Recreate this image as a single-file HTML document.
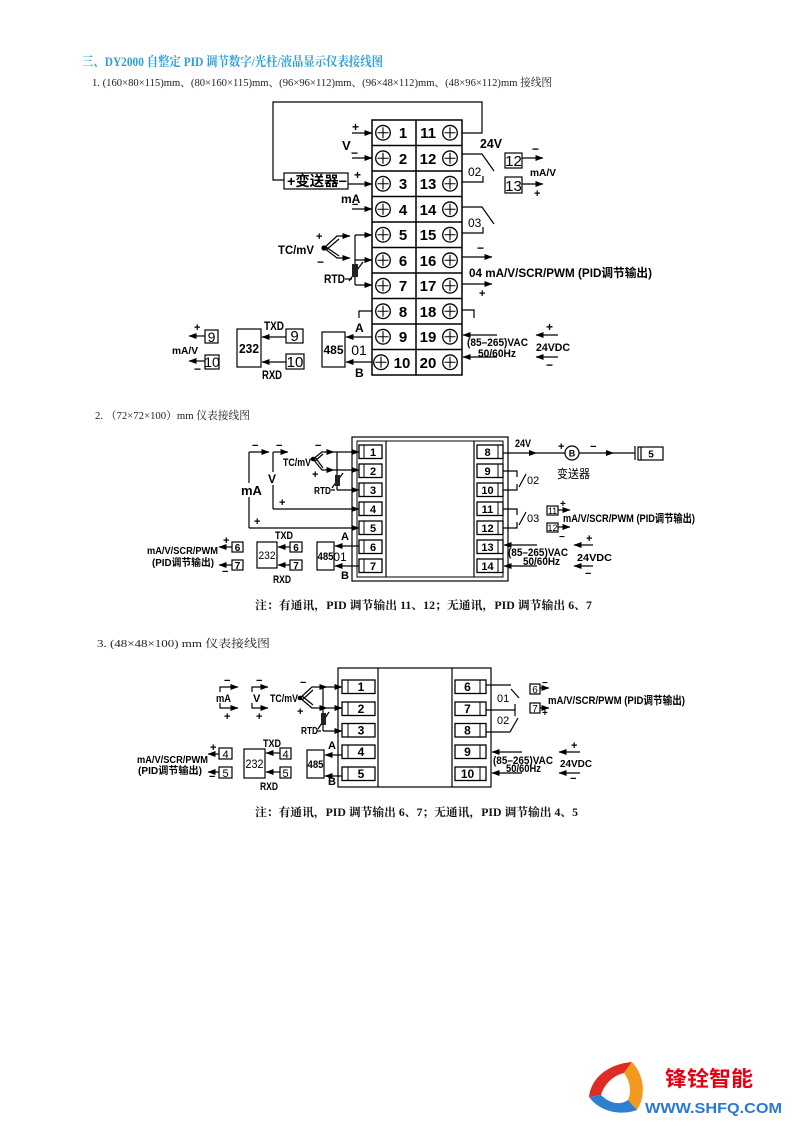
<!DOCTYPE html>
<html><head><meta charset="utf-8"><style>
html,body{margin:0;padding:0;background:#fff;width:794px;height:1123px;overflow:hidden}
svg{display:block}
.s{font-family:"Liberation Sans","Noto Sans CJK SC",sans-serif}
.b{font-weight:bold}
.sf{font-family:"Liberation Serif","Noto Serif CJK SC",serif}
</style></head><body>
<svg width="794" height="1123" viewBox="0 0 794 1123" xmlns="http://www.w3.org/2000/svg">
<defs>
<marker id="a" markerWidth="8" markerHeight="6" refX="7.5" refY="3" orient="auto" markerUnits="userSpaceOnUse"><path d="M0,0 L8,3 L0,6 z" fill="#000"/></marker>
<g id="cp"><circle r="7.3" fill="#fff" stroke="#000" stroke-width="1.3"/><path d="M-5.5,0H5.5M0,-5.5V5.5" stroke="#000" stroke-width="1.1"/></g>
</defs>
<rect width="794" height="1123" fill="#fff"/>

<!-- headers -->
<text x="82" y="66" class="sf b" font-size="13" fill="#2b9fd9" textLength="301" lengthAdjust="spacingAndGlyphs">三、DY2000 自整定 PID 调节数字/光柱/液晶显示仪表接线图</text>
<text x="92" y="86" class="sf" font-size="11" fill="#222" textLength="460" lengthAdjust="spacingAndGlyphs">1. (160×80×115)mm、(80×160×115)mm、(96×96×112)mm、(96×48×112)mm、(48×96×112)mm 接线图</text>

<!-- ================= Diagram 1 ================= -->
<g stroke="#000" fill="none" stroke-width="1.5">
<rect x="372" y="120" width="90" height="255"/>
<path d="M416,120V375M372,145.5H462M372,171H462M372,196.5H462M372,222H462M372,247.5H462M372,273H462M372,298.5H462M372,324H462M372,349.5H462"/>
</g>
<g>
<use href="#cp" x="383" y="132.75"/><use href="#cp" x="383" y="158.25"/><use href="#cp" x="383" y="183.75"/><use href="#cp" x="383" y="209.25"/><use href="#cp" x="383" y="234.75"/><use href="#cp" x="383" y="260.25"/><use href="#cp" x="383" y="285.75"/><use href="#cp" x="383" y="311.25"/><use href="#cp" x="383" y="336.75"/><use href="#cp" x="381" y="362.25"/>
<use href="#cp" x="450" y="132.75"/><use href="#cp" x="450" y="158.25"/><use href="#cp" x="450" y="183.75"/><use href="#cp" x="450" y="209.25"/><use href="#cp" x="450" y="234.75"/><use href="#cp" x="450" y="260.25"/><use href="#cp" x="450" y="285.75"/><use href="#cp" x="450" y="311.25"/><use href="#cp" x="450" y="336.75"/><use href="#cp" x="450" y="362.25"/>
</g>
<g class="s b" font-size="15" text-anchor="middle" fill="#000">
<text x="403" y="138">1</text><text x="403" y="164">2</text><text x="403" y="189">3</text><text x="403" y="215">4</text><text x="403" y="240">5</text><text x="403" y="266">6</text><text x="403" y="291">7</text><text x="403" y="317">8</text><text x="403" y="342">9</text><text x="402" y="368">10</text>
<text x="428" y="138">11</text><text x="428" y="164">12</text><text x="428" y="189">13</text><text x="428" y="215">14</text><text x="428" y="240">15</text><text x="428" y="266">16</text><text x="428" y="291">17</text><text x="428" y="317">18</text><text x="428" y="342">19</text><text x="428" y="368">20</text>
</g>

<g stroke="#000" fill="none" stroke-width="1.2">
<!-- top wire -->
<path d="M462,133H482V102H273V180H284"/>
<!-- left arrows -->
<path d="M352,133H372" marker-end="url(#a)"/>
<path d="M352,158H372" marker-end="url(#a)"/>
<rect x="284" y="173" width="64" height="16"/>
<path d="M348,184H372" marker-end="url(#a)"/>
<path d="M352,209H372" marker-end="url(#a)"/>
<!-- TC -->
<path d="M324,248L337,236H350" marker-end="url(#a)"/>
<path d="M326,250L339,239"/>
<path d="M324,248L337,258H350" marker-end="url(#a)"/>
<path d="M326,247L339,256"/>
<!-- RTD -->
<path d="M355,235V285"/>
<path d="M355,235H372" marker-end="url(#a)"/>
<path d="M355,260H372" marker-end="url(#a)"/>
<path d="M355,285H372" marker-end="url(#a)"/>
<path d="M345,279H352"/>
<path d="M349,281L363,262"/>
<!-- row 8 -->
<path d="M372,311H359V318"/>
<!-- 485 -->
<rect x="322" y="332" width="23" height="35"/>
<path d="M372,337H346" marker-end="url(#a)"/>
<path d="M372,362H346" marker-end="url(#a)"/>
<!-- 232 -->
<rect x="237" y="329" width="24" height="38"/>
<rect x="286" y="329" width="17" height="14"/>
<rect x="286" y="354" width="18" height="15"/>
<path d="M286,337H262" marker-end="url(#a)"/>
<path d="M286,362H262" marker-end="url(#a)"/>
<!-- mA/V left -->
<rect x="205" y="330" width="13" height="13"/>
<rect x="205" y="355" width="14" height="14"/>
<path d="M205,336H189" marker-end="url(#a)"/>
<path d="M205,361H189" marker-end="url(#a)"/>
<!-- right side -->
<path d="M462,154H482L494,171"/>
<path d="M462,182H483V176"/>
<path d="M462,207H482L494,224"/>
<path d="M462,233H483V227"/>
<rect x="505" y="153" width="17" height="15"/>
<rect x="505" y="177" width="17" height="16"/>
<path d="M522,158H543" marker-end="url(#a)"/>
<path d="M522,184H543" marker-end="url(#a)"/>
<path d="M462,257H492" marker-end="url(#a)"/>
<path d="M462,284H492" marker-end="url(#a)"/>
<path d="M462,310H474V318"/>
<path d="M497,335H463" marker-end="url(#a)"/>
<path d="M497,357H463" marker-end="url(#a)"/>
<path d="M558,335H536" marker-end="url(#a)"/>
<path d="M558,357H536" marker-end="url(#a)"/>
</g>
<circle cx="324" cy="248" r="2.6" fill="#000"/>
<rect x="352" y="264" width="6" height="13" fill="#222"/>

<g class="s b" fill="#000">
<text x="352" y="131" font-size="12">+</text>
<text x="342" y="150" font-size="13">V</text>
<text x="351" y="157" font-size="12">−</text>
<text x="287" y="186" font-size="14" textLength="60" lengthAdjust="spacingAndGlyphs">+变送器−</text>
<text x="354" y="179" font-size="12">+</text>
<text x="341" y="203" font-size="12">mA</text>
<text x="352" y="208" font-size="11">−</text>
<text x="278" y="254" font-size="12" textLength="36" lengthAdjust="spacingAndGlyphs">TC/mV</text>
<text x="316" y="240" font-size="11">+</text>
<text x="317" y="266" font-size="12">−</text>
<text x="324" y="283" font-size="12" textLength="21" lengthAdjust="spacingAndGlyphs">RTD</text>
<text x="333.5" y="354" font-size="12" text-anchor="middle" textLength="20" lengthAdjust="spacingAndGlyphs">485</text>
<text x="355" y="332" font-size="12">A</text>
<text x="355" y="377" font-size="12">B</text>
<text x="249" y="353" font-size="13" text-anchor="middle" textLength="20" lengthAdjust="spacingAndGlyphs">232</text>
<text x="264" y="330" font-size="12" textLength="20" lengthAdjust="spacingAndGlyphs">TXD</text>
<text x="262" y="379" font-size="12" textLength="20" lengthAdjust="spacingAndGlyphs">RXD</text>
<text x="194" y="331" font-size="11">+</text>
<text x="194" y="373" font-size="12">−</text>
<text x="172" y="354" font-size="10" textLength="26" lengthAdjust="spacingAndGlyphs">mA/V</text>
<text x="480" y="148" font-size="13" textLength="22" lengthAdjust="spacingAndGlyphs">24V</text>
<text x="532" y="153" font-size="12">−</text>
<text x="530" y="176" font-size="10" textLength="26" lengthAdjust="spacingAndGlyphs">mA/V</text>
<text x="534" y="197" font-size="11">+</text>
<text x="477" y="252" font-size="12">−</text>
<text x="479" y="297" font-size="11">+</text>
<text x="469" y="277" font-size="12" textLength="183" lengthAdjust="spacingAndGlyphs">04 mA/V/SCR/PWM (PID调节输出)</text>
<text x="546" y="331" font-size="12">+</text>
<text x="536" y="351" font-size="11" textLength="34" lengthAdjust="spacingAndGlyphs">24VDC</text>
<text x="546" y="369" font-size="12">−</text>
</g>
<g class="s" fill="#000">
<text x="359" y="355" font-size="14" text-anchor="middle">01</text>
<text x="294.5" y="341" font-size="15" text-anchor="middle">9</text>
<text x="295" y="367" font-size="15" text-anchor="middle">10</text>
<text x="211.5" y="342" font-size="14" text-anchor="middle">9</text>
<text x="212" y="367" font-size="14" text-anchor="middle">10</text>
<text x="468" y="176" font-size="12">02</text>
<text x="468" y="227" font-size="12">03</text>
<text x="513.5" y="166" font-size="15" text-anchor="middle">12</text>
<text x="513.5" y="191" font-size="15" text-anchor="middle">13</text>
<text x="467" y="346" font-size="11" class="b" textLength="61" lengthAdjust="spacingAndGlyphs">(85–265)VAC</text>
<text x="478" y="357" font-size="11" class="b" textLength="38" lengthAdjust="spacingAndGlyphs">50/60Hz</text>
</g>

<!-- ================= Diagram 2 ================= -->
<text x="95" y="419" class="sf" font-size="11" fill="#222" textLength="155" lengthAdjust="spacingAndGlyphs">2. （72×72×100）mm 仪表接线图</text>
<g stroke="#000" fill="none" stroke-width="1.2">
<rect x="352" y="437" width="156" height="144"/>
<rect x="357" y="441" width="146" height="136" stroke-width="1"/>
<path d="M386,441V577M474,441V577"/>
<g stroke-width="1.3">
<rect x="359" y="445" width="23" height="13.5"/><rect x="359" y="464" width="23" height="13.5"/><rect x="359" y="483" width="23" height="13.5"/><rect x="359" y="502" width="23" height="13.5"/><rect x="359" y="521" width="23" height="13.5"/><rect x="359" y="540" width="23" height="13.5"/><rect x="359" y="559" width="23" height="13.5"/>
<rect x="477" y="445" width="26" height="13.5"/><rect x="477" y="464" width="26" height="13.5"/><rect x="477" y="483" width="26" height="13.5"/><rect x="477" y="502" width="26" height="13.5"/><rect x="477" y="521" width="26" height="13.5"/><rect x="477" y="540" width="26" height="13.5"/><rect x="477" y="559" width="26" height="13.5"/>
</g>
<path d="M364,445V458.5M364,464V477.5M364,483V496.5M364,502V515.5M364,521V534.5M364,540V553.5M364,559V572.5" stroke-width="1"/>
<path d="M498,445V458.5M498,464V477.5M498,483V496.5M498,502V515.5M498,521V534.5M498,540V553.5M498,559V572.5" stroke-width="1"/>
<!-- mA -->
<path d="M249,452H269" marker-end="url(#a)"/>
<path d="M249,452V528"/>
<path d="M249,528H359" marker-end="url(#a)"/>
<!-- V -->
<path d="M273,452H288" marker-end="url(#a)"/>
<path d="M273,452V509"/>
<path d="M273,509H359" marker-end="url(#a)"/>
<!-- TC -->
<path d="M313,459L322,452H334" marker-end="url(#a)"/>
<path d="M315,461L323,454"/>
<path d="M313,459L322,470H334" marker-end="url(#a)"/>
<path d="M315,457L323,468"/>
<path d="M334,452H359" marker-end="url(#a)"/>
<path d="M334,470H359" marker-end="url(#a)"/>
<path d="M337,452V490"/>
<path d="M337,490H359" marker-end="url(#a)"/>
<path d="M331,490H335M332,488L343,473"/>
<!-- 485 -->
<rect x="317" y="542" width="17" height="28"/>
<path d="M359,546H335" marker-end="url(#a)"/>
<path d="M359,566H335" marker-end="url(#a)"/>
<!-- 232 -->
<rect x="257" y="542" width="20" height="26"/>
<rect x="290" y="542" width="12" height="10"/>
<rect x="290" y="560" width="12" height="10"/>
<path d="M290,547H278" marker-end="url(#a)"/>
<path d="M290,565H278" marker-end="url(#a)"/>
<rect x="232" y="542" width="11" height="10"/>
<rect x="232" y="560" width="11" height="10"/>
<path d="M232,547H219" marker-end="url(#a)"/>
<path d="M232,565H219" marker-end="url(#a)"/>
<!-- right -->
<path d="M503,453H565"/>
<circle cx="572" cy="453" r="7"/>
<path d="M579,453H635"/>
<path d="M635,446V460"/>
<rect x="638" y="447" width="25" height="13"/>
<path d="M641,447V460"/>
<path d="M503,471H517V477M503,490H517V484M519,487L526,474"/>
<path d="M503,509H517V515M503,528H517V522M519,525L526,512"/>
<rect x="547" y="506" width="11" height="9"/>
<rect x="547" y="523" width="11" height="9"/>
<path d="M558,510H570" marker-end="url(#a)"/>
<path d="M558,527H570" marker-end="url(#a)"/>
<path d="M537,545H504" marker-end="url(#a)"/>
<path d="M537,566H504" marker-end="url(#a)"/>
<path d="M593,545H574" marker-end="url(#a)"/>
<path d="M593,566H574" marker-end="url(#a)"/>
</g>
<path d="M529,450L537,453L529,456z M606,450L614,453L606,456z" fill="#000"/>
<circle cx="313" cy="459" r="2.3" fill="#000"/>
<rect x="335" y="475" width="5" height="11" fill="#222"/>
<rect x="240" y="483" width="19" height="14" fill="#fff"/>
<rect x="267" y="472" width="12" height="13" fill="#fff"/>
<g class="s b" font-size="11" fill="#000">
<text x="252" y="449" font-size="11">−</text>
<text x="254" y="525">+</text>
<text x="241" y="495" font-size="13">mA</text>
<text x="276" y="449">−</text>
<text x="279" y="506">+</text>
<text x="268" y="483" font-size="12">V</text>
<text x="283" y="466" textLength="28" lengthAdjust="spacingAndGlyphs">TC/mV</text>
<text x="315" y="449">−</text>
<text x="312" y="478">+</text>
<text x="314" y="494" font-size="10" textLength="17" lengthAdjust="spacingAndGlyphs">RTD</text>
<text x="325.5" y="560" text-anchor="middle" textLength="16" lengthAdjust="spacingAndGlyphs">485</text>
<text x="341" y="540">A</text>
<text x="341" y="579">B</text>
<text x="267" y="559" text-anchor="middle" font-weight="normal" textLength="17" lengthAdjust="spacingAndGlyphs">232</text>
<text x="275" y="539" textLength="18" lengthAdjust="spacingAndGlyphs">TXD</text>
<text x="273" y="583" textLength="18" lengthAdjust="spacingAndGlyphs">RXD</text>
<text x="296" y="551" text-anchor="middle" font-size="10">6</text>
<text x="296" y="569" text-anchor="middle" font-size="10">7</text>
<text x="237.5" y="551" text-anchor="middle" font-size="10">6</text>
<text x="237.5" y="569" text-anchor="middle" font-size="10">7</text>
<text x="223" y="544">+</text>
<text x="222" y="575">−</text>
<text x="147" y="554" font-size="10" textLength="71" lengthAdjust="spacingAndGlyphs">mA/V/SCR/PWM</text>
<text x="152" y="566" font-size="10" textLength="62" lengthAdjust="spacingAndGlyphs">(PID调节输出)</text>
<g text-anchor="middle" font-size="11">
<text x="373" y="456">1</text><text x="373" y="475">2</text><text x="373" y="494">3</text><text x="373" y="513">4</text><text x="373" y="532">5</text><text x="373" y="551">6</text><text x="373" y="570">7</text>
<text x="487.5" y="456">8</text><text x="487.5" y="475">9</text><text x="487.5" y="494">10</text><text x="487.5" y="513">11</text><text x="487.5" y="532">12</text><text x="487.5" y="551">13</text><text x="487.5" y="570">14</text>
</g>
<text x="515" y="447" textLength="16" lengthAdjust="spacingAndGlyphs">24V</text>
<text x="558" y="450">+</text>
<text x="590" y="450">−</text>
<text x="572" y="456.5" text-anchor="middle" font-size="9">B</text>
<text x="651" y="457.5" text-anchor="middle" font-size="10">5</text>
<text x="557" y="478" font-size="12" font-weight="normal" textLength="33" lengthAdjust="spacingAndGlyphs">变送器</text>
<text x="552.5" y="514" text-anchor="middle" font-size="9" font-weight="normal">11</text>
<text x="552.5" y="531" text-anchor="middle" font-size="9" font-weight="normal">12</text>
<text x="560" y="507" font-size="10">+</text>
<text x="559" y="540" font-size="10">−</text>
<text x="563" y="522" textLength="132" lengthAdjust="spacingAndGlyphs">mA/V/SCR/PWM (PID调节输出)</text>
<text x="508" y="556" textLength="60" lengthAdjust="spacingAndGlyphs">(85–265)VAC</text>
<text x="523" y="565" textLength="37" lengthAdjust="spacingAndGlyphs">50/60Hz</text>
<text x="586" y="542">+</text>
<text x="577" y="561" font-size="10" textLength="35" lengthAdjust="spacingAndGlyphs">24VDC</text>
<text x="585" y="577">−</text>
</g>
<g class="s" font-size="11" fill="#000">
<text x="340" y="561" font-size="12" text-anchor="middle">01</text>
<text x="527" y="484">02</text>
<text x="527" y="522">03</text>
</g>
<text x="255" y="609" class="sf b" font-size="11.5" fill="#111" textLength="337" lengthAdjust="spacingAndGlyphs">注：有通讯，PID 调节输出 11、12；无通讯，PID 调节输出 6、7</text>

<!-- ================= Diagram 3 ================= -->
<text x="97" y="647" class="sf" font-size="11" fill="#222" textLength="173" lengthAdjust="spacingAndGlyphs">3. (48×48×100) mm 仪表接线图</text>
<g stroke="#000" fill="none" stroke-width="1.2">
<rect x="338" y="668" width="153" height="119"/>
<path d="M378,668V787M452,668V787"/>
<g stroke-width="1.3">
<rect x="342" y="680" width="33" height="13.5"/><rect x="342" y="702" width="33" height="13.5"/><rect x="342" y="723.5" width="33" height="13.5"/><rect x="342" y="745" width="33" height="13.5"/><rect x="342" y="767" width="33" height="13.5"/>
<rect x="455" y="680" width="31" height="13.5"/><rect x="455" y="702" width="31" height="13.5"/><rect x="455" y="723.5" width="31" height="13.5"/><rect x="455" y="745" width="31" height="13.5"/><rect x="455" y="767" width="31" height="13.5"/>
</g>
<path d="M348,680V693.5M348,702V715.5M348,723.5V737M348,745V758.5M348,767V780.5M480,680V693.5M480,702V715.5M480,723.5V737M480,745V758.5M480,767V780.5" stroke-width="1"/>
<!-- mA V -->
<path d="M220,692V687H238" marker-end="url(#a)"/>
<path d="M220,703V708H238" marker-end="url(#a)"/>
<path d="M252,692V687H268" marker-end="url(#a)"/>
<path d="M252,703V708H268" marker-end="url(#a)"/>
<!-- TC -->
<path d="M300,698L312,687H327" marker-end="url(#a)"/>
<path d="M302,700L313,690"/>
<path d="M300,698L312,708H327" marker-end="url(#a)"/>
<path d="M302,696L313,705"/>
<path d="M327,687H342" marker-end="url(#a)"/>
<path d="M327,708H342" marker-end="url(#a)"/>
<path d="M323,687V731"/>
<path d="M323,731H342" marker-end="url(#a)"/>
<path d="M317,731H321M318,729L329,712"/>
<!-- 485 -->
<rect x="307" y="750" width="17" height="28"/>
<path d="M342,755H325" marker-end="url(#a)"/>
<path d="M342,776H325" marker-end="url(#a)"/>
<!-- 232 -->
<rect x="244" y="749" width="21" height="29"/>
<rect x="280" y="748" width="11" height="11"/>
<rect x="280" y="767" width="11" height="11"/>
<path d="M280,753H266" marker-end="url(#a)"/>
<path d="M280,772H266" marker-end="url(#a)"/>
<rect x="219" y="748" width="13" height="11"/>
<rect x="219" y="767" width="13" height="11"/>
<path d="M219,754H208" marker-end="url(#a)"/>
<path d="M219,772H208" marker-end="url(#a)"/>
<!-- right -->
<path d="M486,685H511M511,689L519,698"/>
<path d="M486,710H515M515,704V716"/>
<path d="M486,732H510L518,718"/>
<rect x="530" y="684" width="10" height="10"/>
<rect x="530" y="703" width="10" height="10"/>
<path d="M540,688H549" marker-end="url(#a)"/>
<path d="M540,708H549" marker-end="url(#a)"/>
<path d="M522,752H492" marker-end="url(#a)"/>
<path d="M522,773H492" marker-end="url(#a)"/>
<path d="M580,752H559" marker-end="url(#a)"/>
<path d="M580,773H559" marker-end="url(#a)"/>
</g>
<circle cx="300" cy="698" r="2.3" fill="#000"/>
<rect x="321" y="713" width="5" height="12" fill="#222"/>
<g class="s b" font-size="11" fill="#000">
<text x="224" y="684">−</text>
<text x="216" y="702" textLength="15" lengthAdjust="spacingAndGlyphs">mA</text>
<text x="224" y="720">+</text>
<text x="256" y="684">−</text>
<text x="253" y="702">V</text>
<text x="256" y="720">+</text>
<text x="270" y="702" textLength="28" lengthAdjust="spacingAndGlyphs">TC/mV</text>
<text x="300" y="686">−</text>
<text x="297" y="715">+</text>
<text x="301" y="734" font-size="10" textLength="17" lengthAdjust="spacingAndGlyphs">RTD</text>
<text x="315.5" y="768" text-anchor="middle" textLength="16" lengthAdjust="spacingAndGlyphs">485</text>
<text x="328" y="749">A</text>
<text x="328" y="785">B</text>
<text x="254.5" y="768" text-anchor="middle" font-size="12" font-weight="normal" textLength="18" lengthAdjust="spacingAndGlyphs">232</text>
<text x="263" y="747" textLength="18" lengthAdjust="spacingAndGlyphs">TXD</text>
<text x="260" y="790" textLength="18" lengthAdjust="spacingAndGlyphs">RXD</text>
<text x="285.5" y="758" text-anchor="middle" font-size="11" font-weight="normal">4</text>
<text x="285.5" y="777" text-anchor="middle" font-size="11" font-weight="normal">5</text>
<text x="225.5" y="758" text-anchor="middle" font-size="11" font-weight="normal">4</text>
<text x="225.5" y="777" text-anchor="middle" font-size="11" font-weight="normal">5</text>
<text x="210" y="751">+</text>
<text x="209" y="780">−</text>
<text x="137" y="763" font-size="10" textLength="71" lengthAdjust="spacingAndGlyphs">mA/V/SCR/PWM</text>
<text x="138" y="774" font-size="10" textLength="64" lengthAdjust="spacingAndGlyphs">(PID调节输出)</text>
<g text-anchor="middle" font-size="12">
<text x="361" y="691">1</text><text x="361" y="713">2</text><text x="361" y="734.5">3</text><text x="361" y="756">4</text><text x="361" y="778">5</text>
<text x="467.5" y="691">6</text><text x="467.5" y="713">7</text><text x="467.5" y="734.5">8</text><text x="467.5" y="756">9</text><text x="467.5" y="778">10</text>
</g>
<text x="535" y="693" text-anchor="middle" font-size="10" font-weight="normal">6</text>
<text x="535" y="712" text-anchor="middle" font-size="10" font-weight="normal">7</text>
<text x="542" y="686" font-size="10">−</text>
<text x="542" y="716" font-size="10">+</text>
<text x="548" y="704" textLength="137" lengthAdjust="spacingAndGlyphs">mA/V/SCR/PWM (PID调节输出)</text>
<text x="493" y="764" textLength="60" lengthAdjust="spacingAndGlyphs">(85–265)VAC</text>
<text x="506" y="772" textLength="35" lengthAdjust="spacingAndGlyphs">50/60Hz</text>
<text x="571" y="749">+</text>
<text x="560" y="767" font-size="10" textLength="32" lengthAdjust="spacingAndGlyphs">24VDC</text>
<text x="570" y="782">−</text>
</g>
<g class="s" font-size="11" fill="#000">
<text x="497" y="702">01</text>
<text x="497" y="724">02</text>
</g>
<text x="255" y="816" class="sf b" font-size="11.5" fill="#111" textLength="323" lengthAdjust="spacingAndGlyphs">注：有通讯，PID 调节输出 6、7；无通讯，PID 调节输出 4、5</text>

<!-- ================= Logo ================= -->
<path d="M589,1097 C591,1078 608,1064 632,1062 L624,1073 C612,1076 604,1085 601,1095 Z" fill="#e02b25"/>
<path d="M632,1062 C645,1076 646,1096 637,1110 L628,1100 C632,1091 630,1081 624,1073 Z" fill="#f39a1e"/>
<path d="M589,1097 L601,1095 C609,1103 620,1106 628,1100 L637,1110 C621,1116 600,1112 589,1097 Z" fill="#2f7fd0"/>
<text x="665" y="1086" font-family="'Noto Sans CJK SC',sans-serif" font-weight="bold" font-size="21" fill="#e60012" textLength="88" lengthAdjust="spacingAndGlyphs">锋铨智能</text>
<text x="645" y="1113" class="s b" font-size="15" fill="#2a78d6" textLength="137" lengthAdjust="spacingAndGlyphs">WWW.SHFQ.COM</text>
</svg>
</body></html>
